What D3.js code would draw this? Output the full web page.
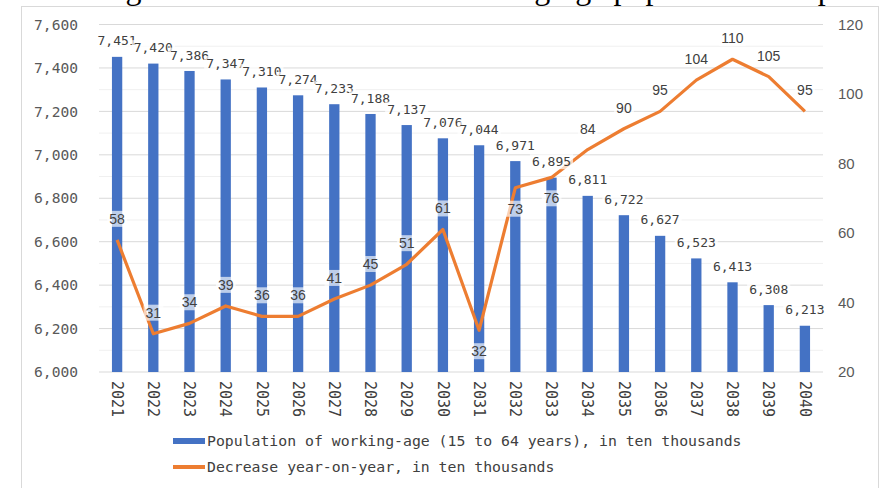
<!DOCTYPE html>
<html>
<head>
<meta charset="utf-8">
<script src="https://cdn.jsdelivr.net/npm/d3@7"></script>
<style>
  body { margin: 0; background: #fff; }
  svg { display: block; }
</style>
</head>
<body>
<svg id="chart" width="887" height="488"></svg>
<script>
var years = ["2021", "2022", "2023", "2024", "2025", "2026", "2027", "2028", "2029", "2030",
             "2031", "2032", "2033", "2034", "2035", "2036", "2037", "2038", "2039", "2040"];
var population = [7451, 7420, 7386, 7347, 7310, 7274, 7233, 7188, 7137, 7076,
                  7044, 6971, 6895, 6811, 6722, 6627, 6523, 6413, 6308, 6213];
var decrease = [58, 31, 34, 39, 36, 36, 41, 45, 51, 61,
                32, 73, 76, 84, 90, 95, 104, 110, 105, 95];
var leftTicks = [6000, 6200, 6400, 6600, 6800, 7000, 7200, 7400, 7600];
var rightTicks = [20, 40, 60, 80, 100, 120];
var legendNames = ["Population of working-age (15 to 64 years), in ten thousands",
                   "Decrease year-on-year, in ten thousands"];
var titleText = "Changes in the number of the working-age population in Japan";

var mono = "'DejaVu Sans Mono', monospace";
var sans = "'Liberation Sans', Arial, sans-serif";
var blue = "#4472c4", orange = "#ed7d31";

var svg = d3.select("#chart");

// title is cut off by the top of the picture, only descenders show
svg.append("text")
  .attr("x", 58).attr("y", -1)
  .style("font-family", "'Liberation Serif', serif")
  .style("font-size", "32px")
  .attr("fill", "#000")
  .text(titleText);

// chart frame
svg.append("rect")
  .attr("x", 21.5).attr("y", 6.5)
  .attr("width", 857).attr("height", 500)
  .attr("fill", "none").attr("stroke", "#d9d9d9");

var margin = {top: 24.5, right: 64, bottom: 116, left: 99},
    width  = 887 - margin.left - margin.right,
    height = 488 - margin.top - margin.bottom;

var g = svg.append("g").attr("transform", "translate(" + margin.left + "," + margin.top + ")");

var x = d3.scaleBand().domain(years).range([0, width]).paddingInner(0.715).paddingOuter(0.3575);
var y = d3.scaleLinear().domain([6000, 7600]).range([height, 0]);
var y2 = d3.scaleLinear().domain([20, 120]).range([height, 0]);

function cx(i) { return x(years[i]) + x.bandwidth() / 2; }

// minor grid lines
var minor = d3.range(6100, 7600, 200);
g.selectAll(".minor").data(minor).enter().append("line")
  .attr("x1", 0).attr("x2", width)
  .attr("y1", function (d) { return y(d); }).attr("y2", function (d) { return y(d); })
  .attr("stroke", "#f0f0f0");

// major grid lines
g.selectAll(".major").data(leftTicks).enter().append("line")
  .attr("x1", 0).attr("x2", width)
  .attr("y1", function (d) { return y(d); }).attr("y2", function (d) { return y(d); })
  .attr("stroke", "#d9d9d9");

// bars
g.selectAll(".bar").data(population).enter().append("rect")
  .attr("x", function (d, i) { return x(years[i]); })
  .attr("y", function (d) { return y(d); })
  .attr("width", x.bandwidth())
  .attr("height", function (d) { return height - y(d); })
  .attr("fill", blue);

// line
var line = d3.line()
  .x(function (d, i) { return cx(i); })
  .y(function (d) { return y2(d); });

g.append("path").datum(decrease)
  .attr("d", line)
  .attr("fill", "none")
  .attr("stroke", orange)
  .attr("stroke-width", 3.2)
  .attr("stroke-linejoin", "round");

// left axis
var leftAxis = g.append("g").call(d3.axisLeft(y).tickValues(leftTicks).tickFormat(d3.format(",")).tickSize(0).tickPadding(21));
leftAxis.select(".domain").remove();
leftAxis.selectAll("text").style("font-family", mono).style("font-size", "14.6px").attr("fill", "#595959");

// right axis
var rightAxis = g.append("g").attr("transform", "translate(" + width + ",0)")
  .call(d3.axisRight(y2).tickValues(rightTicks).tickSize(0).tickPadding(15));
rightAxis.select(".domain").remove();
rightAxis.selectAll("text").style("font-family", sans).style("font-size", "15px").attr("fill", "#595959");

// bottom axis, years turned 90 degrees
var bottomAxis = g.append("g").attr("transform", "translate(0," + height + ")")
  .call(d3.axisBottom(x).tickSize(0));
bottomAxis.select(".domain").remove();
bottomAxis.selectAll("text")
  .attr("transform", "rotate(90)")
  .attr("x", 9).attr("y", 0).attr("dy", "0.35em")
  .style("text-anchor", "start")
  .style("font-family", mono).style("font-size", "15px")
  .attr("fill", "#404040");

// labels with a pale box behind them
function addLabel(px, py, txt, font, size, boxOpacity) {
  var lg = g.append("g");
  var box = lg.append("rect");
  var t = lg.append("text")
    .attr("x", px).attr("y", py).attr("dy", "0.35em")
    .attr("text-anchor", "middle")
    .style("font-family", font).style("font-size", size)
    .attr("fill", "#404040")
    .text(txt);
  var bb = t.node().getBBox();
  box.attr("x", bb.x - 2).attr("y", bb.y)
    .attr("width", bb.width + 4).attr("height", bb.height)
    .attr("fill", "#fff").attr("opacity", boxOpacity);
}

var fmt = d3.format(",");
population.forEach(function (d, i) {
  addLabel(cx(i), y(d) - 16, fmt(d), mono, "13px", 0.7);
});

var belowIdx = [10, 11, 12];
decrease.forEach(function (d, i) {
  var off = belowIdx.indexOf(i) >= 0 ? 21 : -21;
  addLabel(cx(i), y2(d) + off, d, sans, "14px", 0.65);
});

// legend
var legend = svg.append("g").attr("transform", "translate(173,441)");
legendNames.forEach(function (name, i) {
  var row = legend.append("g").attr("transform", "translate(0," + (i * 26) + ")");
  row.append("rect")
    .attr("x", 0).attr("y", i === 0 ? -3 : -2)
    .attr("width", 32).attr("height", i === 0 ? 6 : 4)
    .attr("fill", i === 0 ? blue : orange);
  row.append("text")
    .attr("x", 34).attr("y", 0).attr("dy", "0.35em")
    .style("font-family", mono).style("font-size", "14.8px")
    .attr("fill", "#404040")
    .text(name);
});
</script>
</body>
</html>
